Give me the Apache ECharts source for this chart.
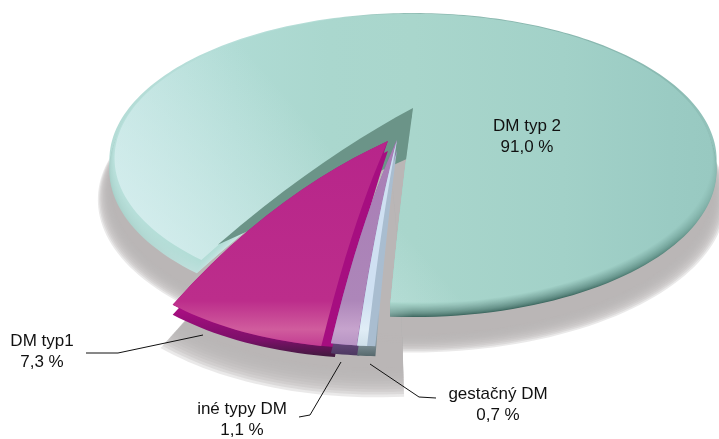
<!DOCTYPE html>
<html>
<head>
<meta charset="utf-8">
<style>
html,body{margin:0;padding:0;background:#fff;}
#main{width:719px;height:439px;}
</style>
</head>
<body>
<div id="main"></div>
<script src="https://cdn.jsdelivr.net/npm/echarts@6/dist/echarts.min.js"></script>
<script>
// clockwise from the bottom of the pie
var categories = ['gestačný DM', 'iné typy DM', 'DM typ1', 'DM typ 2'];
var values = [0.7, 1.1, 7.3, 91.0];

// perspective of the disc: a unit circle goes to an ellipse, centre goes to the apex
var AX = 413, AY = 108, R = 284, P = 90.4, C = -0.354;
var START = 183, RIM = 10;
var MAIN_BEND = 0.25, SLICE_BEND = 0.45;
var HIDE = 3.5;   // main disc runs on a little behind the big slice

// exploded slices, same order as categories
var explode = [
  { off: [-0.052, 0.229], k: 0.89, rot: -1.2, wall: 1.15 },
  { off: [-0.052, 0.229], k: 0.89, rot: -1.5, wall: 0.35 },
  { off: [-0.081, 0.235], k: 0.89, rot: -4, wall: 1.9 }
];
var colors = [
  { wall: ['#a9bdd0', '#a9bdd0', '#8b9ea6', '#56686c'], face: ['#cfe0f2', '#cfe0f2', '#e0edf6', '#cfe0ea'] },
  { wall: ['#8f5da8', '#8f5da8', '#6b4c80', '#4c3860'], face: ['#a87db5', '#ad86b9', '#c6a3cd', '#b794c4'] },
  { wall: ['#a60e80', '#a60e80', '#7a1068', '#3f1a3d'], face: ['#b7258a', '#bc2d8b', '#d05c9d', '#c23c92'] }
];
var faceStops = [[0, '#b9e0db'], [0.2, '#afdbd4'], [0.36, '#aad7ce'], [0.5, '#a9d6cc'], [0.75, '#a2d1c8'], [0.93, '#9acbc3'], [1, '#98c9c1']];
var rimStops = ['#a6cfc8', '#cbe8e6', '#d6eeee', '#3d665e', '#3f6a62', '#5c8c82', '#86b5ac'];
var labelPos = [[498, 405], [242, 420], [42, 352], [527, 137]];
var leaders = [
  [[370, 364], [419, 397], [436, 398]],
  [[299, 417], [310, 415], [341, 362]],
  [[86, 353], [118, 353], [203, 335]]
];

var total = values.reduce(function (a, b) { return a + b; }, 0);
var ranges = [];
values.reduce(function (acc, v, i) {
  ranges[i] = [acc, acc + v / total * 360];
  return ranges[i][1];
}, START);

function project(u, v) {
  var w = 1 + C * v;
  return [AX + R * u / w, (AY + P * v) / w];
}
function disc(off, k, th, r, bend) {
  var t = 180 + (th % 360 - 180) * (1 + bend * (1 - r));
  var a = t * Math.PI / 180;
  return project(off[0] + k * r * Math.sin(a), off[1] - k * r * Math.cos(a));
}
// outline of a wedge: apex, one edge, the arc, back along the other edge
function wedge(a, b, off, k, bend, dx, dy) {
  var pts = [], i, n = Math.ceil(Math.abs(b - a) / 1.5) + 2;
  for (i = 0; i <= 12; i++) pts.push(disc(off, k, a, i / 12, bend));
  for (i = 1; i < n; i++) pts.push(disc(off, k, a + (b - a) * i / n, 1, bend));
  for (i = 12; i >= 1; i--) pts.push(disc(off, k, b, i / 12, bend));
  return pts.map(function (p) { return [p[0] + (dx || 0), p[1] + (dy || 0)]; });
}
function poly(points, style) {
  return { type: 'polygon', shape: { points: points }, style: style, silent: true };
}
function vgrad(c) {
  return new echarts.graphic.LinearGradient(0, 0, 0, 1, [
    { offset: 0, color: c[0] }, { offset: 0.78, color: c[1] },
    { offset: 0.92, color: c[2] }, { offset: 1, color: c[3] }
  ]);
}
function rimGrad(t) {
  return new echarts.graphic.LinearGradient(0, 0, 1, 0, faceStops.map(function (s, i) {
    return { offset: s[0], color: echarts.color.lerp(t, [rimStops[i], s[1]]) };
  }));
}

// soft edge: stacked see-through outlines, growing towards the outside
function renderShadow() {
  var kids = [], n = 12, g = 'rgba(186,182,181,0.3)';
  var e = explode[2], a = ranges[0][0] + e.rot - 2.5, b = ranges[2][1] + e.rot;
  for (var s = 0; s < n; s++) {
    var t = s / (n - 1);
    kids.push(poly(wedge(180, 540, [0, 0], 1.03 - 0.04 * t, 0, -1, 36 - 6 * t), { fill: g }));
    kids.push(poly(wedge(a, b + 1, e.off, 0.92 - 0.06 * t, SLICE_BEND, 3, 38 - 8 * t), { fill: g }));
  }
  return { type: 'group', children: kids };
}

function renderMain() {
  var r = ranges[3], a = r[0] - HIDE, b = r[1], kids = [], n = 18, off = [0, 0];
  kids.push(poly(wedge(a, b, off, 1, MAIN_BEND), { fill: rimGrad(0.75) }));
  for (var s = 0; s <= n; s++) {
    var t = s / n;
    kids.push(poly(wedge(a, b, off, 1 - 0.012 * t, MAIN_BEND, 0, RIM * (1 - t)), { fill: rimGrad(Math.pow(t, 0.7)) }));
  }
  // lighter lower left of the top face
  kids.push(poly(wedge(a, b, off, 0.985, MAIN_BEND), {
    fill: new echarts.graphic.LinearGradient(0.1, 1, 0.38, 0.5, [
      { offset: 0, color: 'rgba(222,242,244,0.8)' }, { offset: 1, color: 'rgba(222,242,244,0)' }
    ])
  }));
  // inner wall seen in the notch
  var notch = [disc(off, 1, b, 0, MAIN_BEND), disc(off, 1, b, 0.35, MAIN_BEND)];
  for (var j = 10; j >= 0; j--) notch.push(disc(off, 1, a, 0.92 * j / 10, MAIN_BEND));
  kids.push(poly(notch, { fill: '#6b9488' }));
  return { type: 'group', children: kids };
}

function renderSlice(i) {
  var e = explode[i], c = colors[i], a = ranges[i][0] + e.rot, b = ranges[i][1] + e.rot;
  return {
    type: 'group',
    children: [
      poly(wedge(a, b, e.off, e.k, SLICE_BEND, 0, RIM), { fill: vgrad(c.wall) }),
      poly(wedge(a, b, e.off, e.k, SLICE_BEND), { fill: c.wall[0] }),
      poly(wedge(a + e.wall, b, e.off, e.k, SLICE_BEND), { fill: vgrad(c.face) })
    ]
  };
}

function renderPie(params) {
  return params.dataIndex === 3 ? renderMain() : renderSlice(params.dataIndex);
}

function renderLabel(params) {
  var i = params.dataIndex, kids = [{
    type: 'text',
    silent: true,
    style: {
      text: categories[i] + '\n' + values[i].toFixed(1).replace('.', ',') + ' %',
      x: labelPos[i][0], y: labelPos[i][1],
      align: 'center', verticalAlign: 'middle',
      font: '17px "Liberation Sans"', lineHeight: 21, fill: '#111'
    }
  }];
  if (leaders[i]) {
    kids.push({ type: 'polyline', silent: true, shape: { points: leaders[i] }, style: { stroke: '#111', lineWidth: 1, fill: null } });
  }
  return { type: 'group', children: kids };
}

var idx = values.map(function (v, i) { return i; });
var chart = echarts.init(document.getElementById('main'));
chart.setOption({
  backgroundColor: '#fff',
  animation: false,
  series: [
    { type: 'custom', coordinateSystem: 'none', silent: true, z: 1, renderItem: renderShadow, data: [0] },
    // main disc first, then the slices lying on top of it
    { type: 'custom', coordinateSystem: 'none', silent: true, z: 2, renderItem: function (p, api) {
        return renderPie({ dataIndex: api.value(0) });
      }, data: [[3], [2], [1], [0]] },
    { type: 'custom', coordinateSystem: 'none', silent: true, z: 3, renderItem: renderLabel, data: idx.slice() }
  ]
});
</script>
</body>
</html>
